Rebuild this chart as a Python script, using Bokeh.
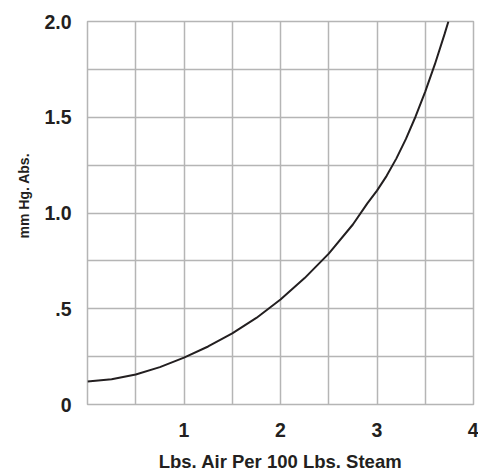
from bokeh.plotting import figure
from bokeh.models import Range1d, FixedTicker, Title
from bokeh.embed import file_html
from bokeh.resources import INLINE

# Data
air_lbs = [0.0, 0.25, 0.5, 0.75, 1.0, 1.25, 1.5, 1.75, 2.0, 2.25, 2.5, 2.75, 2.9,
           3.0, 3.1, 3.2, 3.3, 3.4, 3.5, 3.6, 3.7, 3.74]
mm_hg = [0.12, 0.132, 0.157, 0.195, 0.245, 0.303, 0.371, 0.452, 0.548, 0.66, 0.788, 0.94, 1.05,
         1.117, 1.194, 1.284, 1.387, 1.504, 1.634, 1.777, 1.934, 2.0]

x_ticks = [1, 2, 3, 4]
x_tick_labels = ["1", "2", "3", "4"]
y_ticks = [0, 0.5, 1.0, 1.5, 2.0]
y_tick_labels = ["0", ".5", "1.0", "1.5", "2.0"]
x_grid = [0, 0.5, 1, 1.5, 2, 2.5, 3, 3.5, 4]
y_grid = [0, 0.25, 0.5, 0.75, 1.0, 1.25, 1.5, 1.75, 2.0]

TEXT = "#231f20"
GRID = "#b5b5b5"
FONT = "Liberation Sans"

p = figure(width=478, height=476, output_backend="svg", toolbar_location=None,
           x_range=Range1d(0, 4), y_range=Range1d(0, 2),
           min_border_left=87, min_border_right=5, min_border_top=21, min_border_bottom=72)

p.outline_line_color = GRID
p.outline_line_width = 1.5

p.xgrid.ticker = FixedTicker(ticks=x_grid)
p.ygrid.ticker = FixedTicker(ticks=y_grid)
for g in (p.xgrid, p.ygrid):
    g.grid_line_color = GRID
    g.grid_line_width = 1.5

p.xaxis.ticker = FixedTicker(ticks=x_ticks)
p.xaxis.major_label_overrides = {t: l for t, l in zip(x_ticks, x_tick_labels)}
p.yaxis.ticker = FixedTicker(ticks=y_ticks)
p.yaxis.major_label_overrides = {t: l for t, l in zip(y_ticks, y_tick_labels)}

for ax in (p.xaxis, p.yaxis):
    ax.axis_line_color = None
    ax.major_tick_line_color = None
    ax.minor_tick_line_color = None
    ax.major_tick_out = 0
    ax.major_tick_in = 0
    ax.major_label_text_font = FONT
    ax.major_label_text_font_style = "bold"
    ax.major_label_text_font_size = "19.5px"
    ax.major_label_text_color = TEXT
    ax.axis_label_text_font = FONT
    ax.axis_label_text_font_style = "bold"
    ax.axis_label_text_color = TEXT

p.yaxis.major_label_standoff = 16
p.xaxis.major_label_standoff = 18

p.xaxis.axis_label = "Lbs. Air Per 100 Lbs. Steam"
p.xaxis.axis_label_text_font_size = "18.5px"
p.xaxis.axis_label_standoff = 11

ytitle = Title(text="mm Hg. Abs.", align="left", offset=166, standoff=19,
               text_font=FONT, text_font_style="bold", text_font_size="14px",
               text_color=TEXT)
p.add_layout(ytitle, "left")

p.line(air_lbs, mm_hg, line_color=TEXT, line_width=2)

open("out.html", "w").write(file_html(p, INLINE))
